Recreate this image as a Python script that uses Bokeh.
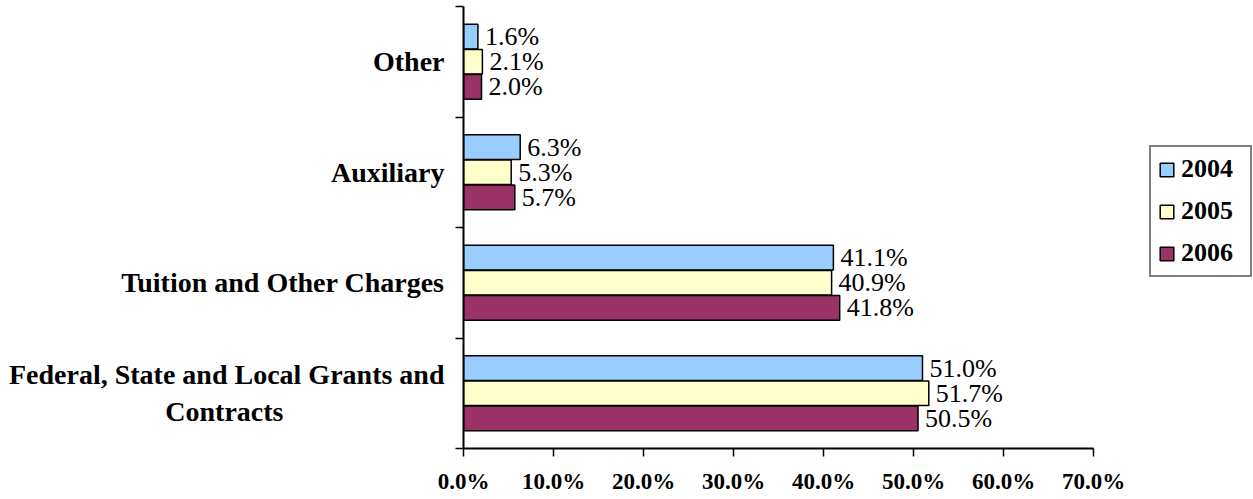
from bokeh.plotting import figure
from bokeh.models import (ColumnDataSource, Range1d, FixedTicker, PrintfTickFormatter,
                          Legend, LegendItem)
from bokeh.transform import dodge
from bokeh.core.properties import value
from bokeh.embed import file_html
from bokeh.resources import INLINE

NB = "\u00a0"
categories = ["Federal, State and Local Grants and\nContracts" + NB * 23,
              "Tuition and Other Charges", "Auxiliary", "Other"]
years = ["2004", "2005", "2006"]
v2004 = [51.0, 41.1, 6.3, 1.6]
v2005 = [51.7, 40.9, 5.3, 2.1]
v2006 = [50.5, 41.8, 5.7, 2.0]
colors = ["#99CCFF", "#FFFFCC", "#993366"]
x_ticks = [0, 10, 20, 30, 40, 50, 60, 70]

SERIF = "Liberation Serif"
ypos = [i + 0.5 for i in range(len(categories))]

W, H = 1253, 499
LEFT, RIGHT_AXIS_PX = 463, 1093
p = figure(width=W, height=H, output_backend="svg", toolbar_location=None,
           x_range=Range1d(0, 70 * (W - LEFT) / (RIGHT_AXIS_PX - LEFT)),
           y_range=Range1d(0, len(categories)),
           min_border_left=LEFT, min_border_right=0, min_border_top=6,
           min_border_bottom=51)
p.outline_line_color = None
p.xgrid.visible = False
p.ygrid.visible = False
p.background_fill_color = "white"
p.border_fill_color = "white"

offsets = [0.227, 0.0, -0.227]
renderers = []
for yr, vals, col, off in zip(years, [v2004, v2005, v2006], colors, offsets):
    src = ColumnDataSource(dict(y=ypos, v=vals, lab=[f"{x:.1f}%" for x in vals]))
    r = p.hbar(y=dodge("y", off), right="v", left=0, height=0.223, source=src,
               fill_color=col, line_color="black", line_width=1.5)
    renderers.append(r)
    p.text(x="v", y=dodge("y", off), text="lab", source=src, x_offset=7,
           text_baseline="middle", text_align="left",
           text_font=value(SERIF), text_font_size="26px", text_color="black")

# x axis
xa = p.xaxis[0]
xa.bounds = (0, 70)
xa.ticker = FixedTicker(ticks=x_ticks)
xa.formatter = PrintfTickFormatter(format="%.1f%%")
xa.major_label_text_font = SERIF
xa.major_label_text_font_style = "bold"
xa.major_label_text_font_size = "23px"
xa.major_label_text_color = "black"
xa.major_label_standoff = 12
xa.axis_line_width = 2
xa.major_tick_line_width = 1.5
xa.major_tick_in = 0
xa.major_tick_out = 8
xa.minor_tick_line_color = None
xa.axis_line_color = "black"

# y axis
ya = p.yaxis[0]
ya.ticker = FixedTicker(ticks=ypos, minor_ticks=list(range(len(categories) + 1)))
ya.major_label_overrides = {y: c for y, c in zip(ypos, categories)}
ya.major_label_text_font = SERIF
ya.major_label_text_font_style = "bold"
ya.major_label_text_font_size = "28px"
ya.major_label_text_color = "black"
ya.major_label_standoff = 11
ya.major_tick_in = 0
ya.major_tick_out = 0
ya.major_tick_line_color = None
ya.minor_tick_in = 0
ya.minor_tick_out = 8
ya.minor_tick_line_width = 1.5
ya.minor_tick_line_color = "black"
ya.axis_line_width = 2
ya.axis_line_color = "black"

legend = Legend(items=[LegendItem(label=yr, renderers=[r]) for yr, r in zip(years, renderers)],
                location=(1149 - LEFT, 448 - 277))
legend.label_text_font = SERIF
legend.label_text_font_style = "bold"
legend.label_text_font_size = "26px"
legend.label_text_color = "black"
legend.glyph_width = 17
legend.glyph_height = 17
legend.label_height = 24
legend.label_width = 62
legend.label_standoff = 6
legend.padding = 7
legend.spacing = 12
legend.margin = 0
legend.border_line_color = "black"
legend.border_line_width = 2
legend.background_fill_color = "white"
legend.background_fill_alpha = 1
p.add_layout(legend, "center")

open("out.html", "w").write(file_html(p, INLINE))
